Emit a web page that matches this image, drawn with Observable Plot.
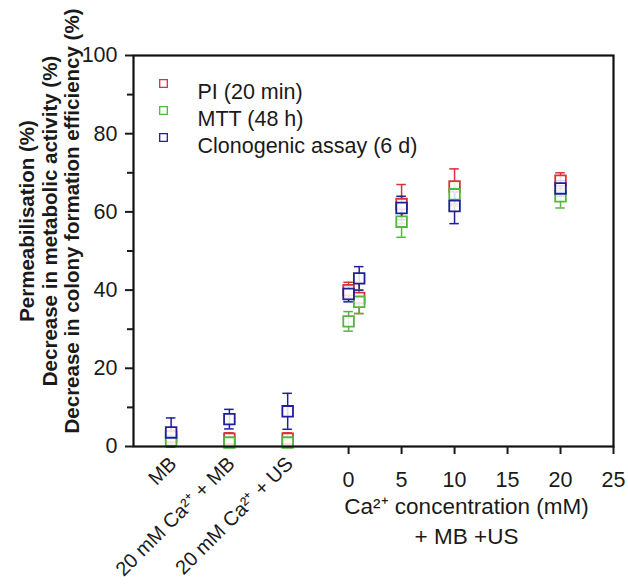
<!DOCTYPE html>
<html><head><meta charset="utf-8">
<script src="https://cdn.jsdelivr.net/npm/d3@7"></script>
<script src="https://cdn.jsdelivr.net/npm/@observablehq/plot@0.6"></script>
<style>body{margin:0;background:#fff;}</style>
</head><body><div id="chart"></div>
<script>
// Categories on the left part of the x axis, then Ca2+ concentrations (mM)
const categories = ["MB", "20 mM Ca²⁺ + MB", "20 mM Ca²⁺ + US"];
const concentrations = [0, 1, 5, 10, 20];
const seriesNames = ["PI (20 min)", "MTT (48 h)", "Clonogenic assay (6 d)"];

// values: 3 categories followed by 5 concentrations
const piMean = [2.5, 2, 2, 40, 38, 62, 66.5, 68];
const piErr = [1.5, 1.5, 1.5, 2, 4, 5, 4.5, 2];
const mttMean = [1.5, 1, 1, 32, 37, 57.5, 64.5, 64];
const mttErr = [1, 1, 1, 2.5, 3, 4, 3, 3];
const cloMean = [3.6, 7, 9, 39, 43, 61, 61.5, 66];
const cloErr = [3.7, 2.5, 4.6, 2, 3, 3, 4.5, 2];

const xTicks = [0, 5, 10, 15, 20, 25];
const yTicks = [0, 20, 40, 60, 80, 100];
const yMinorTicks = [10, 30, 50, 70, 90];

const yLabel = "Permeabilisation (%)\nDecrease in metabolic activity (%)\nDecrease in colony formation efficiency (%)";
const xLabel = "Ca²⁺ concentration (mM)\n+ MB +US";

const colors = ["#d8323c", "#52b83e", "#1f1f9c"];
const catStep = 5.5;
const xOf = k => k < categories.length ? -5.75 - (categories.length - 1 - k) * catStep : concentrations[k - categories.length];

const series = [
  {name: seriesNames[0], mean: piMean, err: piErr},
  {name: seriesNames[1], mean: mttMean, err: mttErr},
  {name: seriesNames[2], mean: cloMean, err: cloErr}
];
const rows = [];
series.forEach(s => s.mean.forEach((m, k) => rows.push({series: s.name, x: xOf(k), y: m, lo: m - s.err[k], hi: m + s.err[k]})));
const cap = 0.45;

const legendMarks = seriesNames.flatMap((name, i) => [
  Plot.dot([name], {frameAnchor: "top-left", dx: 30, dy: 28 + i * 27, symbol: "square", r: 4.3, stroke: colors[i], fill: "white", strokeWidth: 1.3}),
  Plot.text([name], {frameAnchor: "top-left", dx: 64, dy: 28 + i * 27, text: d => d, textAnchor: "start", fill: "#1a1a1a"})
]);

const plot = Plot.plot({
  width: 628, height: 585,
  marginLeft: 133, marginRight: 15, marginTop: 55, marginBottom: 139,
  style: {fontFamily: "'Liberation Sans', Arial, sans-serif", fontSize: "21.5px", color: "#1a1a1a", background: "white"},
  x: {domain: [-20.3, 25]},
  y: {domain: [0, 100]},
  color: {domain: seriesNames, range: colors},
  marks: [
    Plot.ruleX(rows, {x: "x", y1: "lo", y2: "hi", stroke: "series", strokeWidth: 1.5}),
    Plot.ruleY(rows, {y: "hi", x1: d => d.x - cap, x2: d => d.x + cap, stroke: "series", strokeWidth: 1.5}),
    Plot.ruleY(rows, {y: "lo", x1: d => d.x - cap, x2: d => d.x + cap, stroke: "series", strokeWidth: 1.5}),
    Plot.dot(rows, {x: "x", y: "y", symbol: "square", r: 6, stroke: "series", fill: "white", fillOpacity: 0.85, strokeWidth: 1.8}),
    Plot.frame({stroke: "#111", strokeWidth: 2.2}),
    Plot.axisX(xTicks, {tickSize: 8, tickPadding: 17, strokeWidth: 2, label: null, fill: "#1a1a1a"}),
    Plot.axisY(yTicks, {tickSize: 8, tickPadding: 8, strokeWidth: 2, label: null, fill: "#1a1a1a"}),
    Plot.axisY(yMinorTicks, {tickSize: 6, strokeWidth: 2, tickFormat: () => "", label: null}),
    Plot.text(categories, {x: (d, i) => xOf(i), frameAnchor: "bottom", dx: 2, dy: 14, rotate: -45, text: d => d, textAnchor: "end", lineAnchor: "middle", fontSize: 20, fill: "#1a1a1a"}),
    Plot.text([yLabel], {frameAnchor: "left", dx: -84, dy: -30, rotate: -90, text: d => d, textAnchor: "middle", lineAnchor: "middle", fontWeight: "bold", fontSize: 20.5, lineHeight: 1.1, fill: "#1a1a1a"}),
    Plot.text([xLabel], {frameAnchor: "bottom", dx: 93, dy: 73, text: d => d, textAnchor: "middle", lineAnchor: "middle", fontSize: 22.5, lineHeight: 1.35, fill: "#1a1a1a"}),
    ...legendMarks
  ]
});
document.getElementById("chart").appendChild(plot);
</script>
</body></html>
